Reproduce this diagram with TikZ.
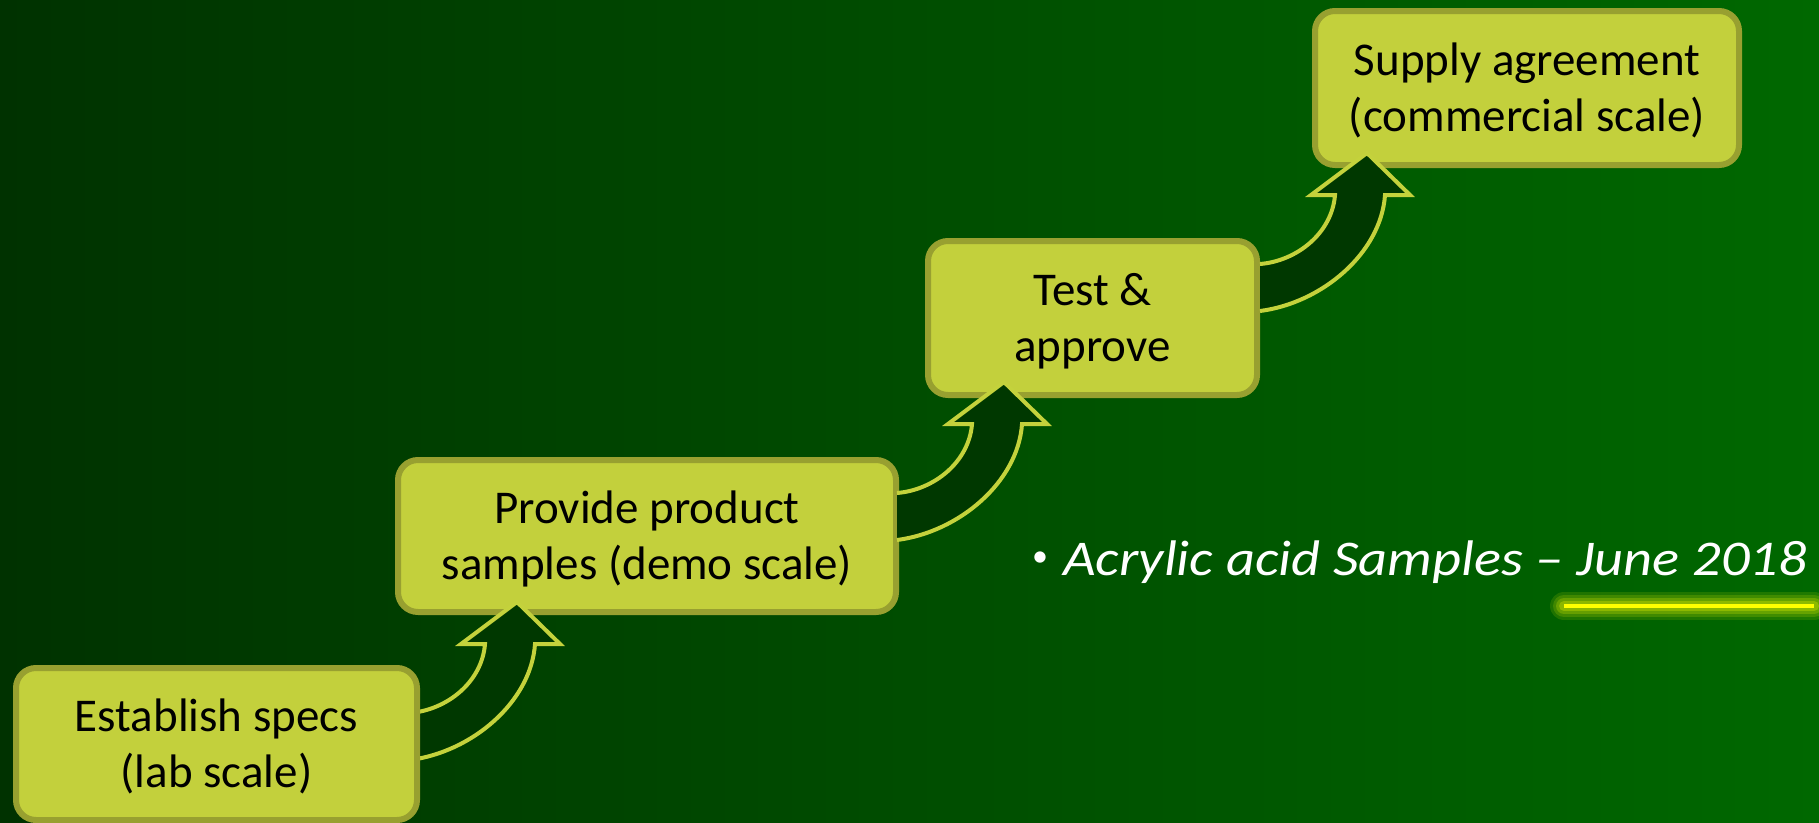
\documentclass[tikz,border=0pt]{standalone}
\usepackage{fontspec}
\setmainfont{Carlito}
\usetikzlibrary{calc}
\definecolor{bgL}{RGB}{0,50,0}
\definecolor{bgR}{RGB}{0,104,0}
\definecolor{boxfill}{RGB}{195,208,60}
\definecolor{boxline}{RGB}{152,160,48}
\definecolor{arrfill}{RGB}{0,56,0}
\definecolor{arrline}{RGB}{196,210,60}
\definecolor{hl}{RGB}{255,255,0}
\newcommand\twolines[2]{\rule{0pt}{44pt}#1\\#2\rule[-13pt]{0pt}{13pt}}
\newcommand\blockarrow[1]{%
  \begin{scope}[shift={(#1)}]
    \fill[arrfill] (-107,158) .. controls (-45,150) and (14,100) .. (18,42)
      -- (43,42) -- (0,0) -- (-56,42) -- (-32,42)
      .. controls (-35,80) and (-70,108) .. (-107,111) -- cycle;
    \draw[arrowedge] (-107,158) .. controls (-45,150) and (14,100) .. (18,42)
      -- (43,42) -- (0,0) -- (-56,42) -- (-32,42)
      .. controls (-35,80) and (-70,108) .. (-107,111);
  \end{scope}}
\begin{document}
\begin{tikzpicture}[x=1pt,y=-1pt,
  stepbox/.style={draw=boxline, fill=boxfill, line width=6pt, rounded corners=20pt,
    align=center, font=\fontsize{47}{56}\selectfont, text=black, inner sep=0pt, outer sep=0pt},
  arrowedge/.style={draw=arrline, line width=4pt, line join=miter},
  bullettext/.style={text=white, inner sep=0pt, outer sep=0pt}]
\useasboundingbox (0,0) rectangle (1819,822);
\shade[left color=bgL, right color=bgR] (0,0) rectangle (1819,822);

\node[stepbox, minimum width=498pt, minimum height=152pt] (b2) at (647,536) {\twolines{Provide product}{samples (demo scale)}};
\node[stepbox, minimum width=329pt, minimum height=154pt] (b3) at (1092.5,318) {\twolines{Test \&}{approve}};
\node[stepbox, minimum width=424pt, minimum height=154pt] (b4) at (1527,88) {\twolines{Supply agreement}{(commercial scale)}};

\coordinate (t1) at ($(b2.south)+(-130,-10)$);
\coordinate (t2) at ($(b3.south)+(-88.5,-13)$);
\coordinate (t3) at ($(b4.south)+(-160,-12)$);
\blockarrow{t1}
\blockarrow{t2}
\blockarrow{t3}

\node[stepbox, minimum width=401pt, minimum height=152pt] (b1) at (216.5,744) {\twolines{Establish specs}{(lab scale)}};

\node[bullettext, anchor=center, font=\fontsize{32}{32}\selectfont] (bul) at (1040,559) {•};
\node[bullettext, anchor=base west] (acr) at (1063,575)
  {\resizebox{744pt}{\height}{\fontsize{50}{50}\selectfont\itshape Acrylic acid Samples – June 2018}};

\coordinate (ul1) at (1564,606);
\coordinate (ul2) at (1814,606);
\foreach \w/\o in {28/0.12, 22/0.15, 16/0.2, 10/0.25}
  \draw[hl, line width=\w pt, opacity=\o, line cap=round] (ul1) -- (ul2);
\draw[hl, line width=4pt] (ul1) -- (ul2);
\end{tikzpicture}
\end{document}
